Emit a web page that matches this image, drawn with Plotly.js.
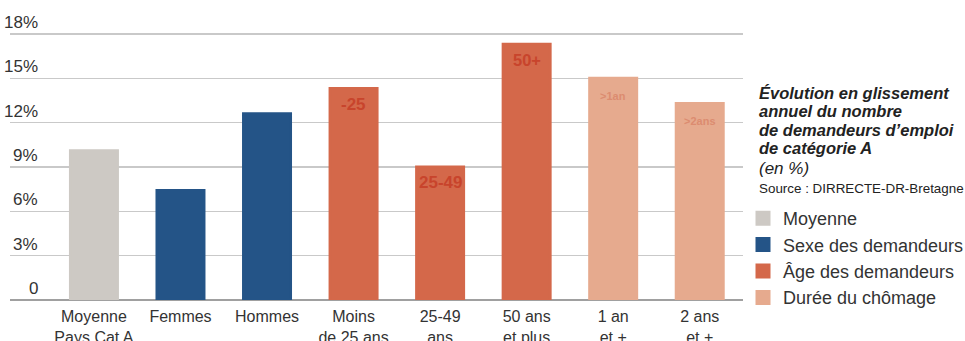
<!DOCTYPE html>
<html>
<head>
<meta charset="utf-8">
<script src="https://cdn.plot.ly/plotly-3.0.1.min.js"></script>
<style>html,body{margin:0;padding:0;background:#fff;}#chart{width:965px;height:341px;}</style>
</head>
<body>
<div id="chart"></div>
<script>
// ---- data ----
const categories = ["Moyenne<br>Pays Cat A", "Femmes", "Hommes", "Moins<br>de 25 ans", "25-49<br>ans", "50 ans<br>et plus", "1 an<br>et +", "2 ans<br>et +"];
const groupNames = ["Moyenne", "Sexe des demandeurs", "Âge des demandeurs", "Durée du chômage"];
const moyenneCats = ["Moyenne<br>Pays Cat A"];
const moyenneValues = [10.1];
const sexeCats = ["Femmes", "Hommes"];
const sexeValues = [7.4, 12.6];
const ageCats = ["Moins<br>de 25 ans", "25-49<br>ans", "50 ans<br>et plus"];
const ageValues = [14.3, 9.0, 17.3];
const ageLabels = ["-25", "25-49", "50+"];
const dureeCats = ["1 an<br>et +", "2 ans<br>et +"];
const dureeValues = [15.0, 13.3];
const dureeLabels = [">1an", ">2ans"];
const yTickValues = [0, 3, 6, 9, 12, 15, 18];
const yTickLabels = ["0", "3%", "6%", "9%", "12%", "15%", "18%"];
const titleLines = ["Évolution en glissement", "annuel du nombre", "de demandeurs d’emploi", "de catégorie A"];
const unitText = "(en %)";
const sourceText = "Source : DIRRECTE-DR-Bretagne";

// ---- style ----
const colors = ["#cdc9c4", "#245487", "#d4684a", "#e6aa8e"];
const FONT = "Liberation Sans, Arial, sans-serif";
const W = 965, H = 341;
const M = {l: 10, r: 222, t: 28, b: 41};
const plotH = H - M.t - M.b, plotW = W - M.l - M.r;
const px2x = p => (p - M.l) / plotW;
const py2y = p => (H - M.b - p) / plotH;

function barTrace(name, cats, vals, color) {
  return {
    type: "bar", name: name, x: cats, y: vals,
    marker: {color: color, line: {color: color, width: 3}},
    hoverinfo: "skip"
  };
}

const data = [
  barTrace(groupNames[0], moyenneCats, moyenneValues, colors[0]),
  barTrace(groupNames[1], sexeCats, sexeValues, colors[1]),
  barTrace(groupNames[2], ageCats, ageValues, colors[2]),
  barTrace(groupNames[3], dureeCats, dureeValues, colors[3])
];

const annotations = [];
// labels inside the bars, anchored to each bar's value
ageCats.forEach((c, i) => {
  annotations.push({
    xref: "x", yref: "y", x: c, y: ageValues[i], xanchor: "center", yanchor: "middle", yshift: -16,
    text: ageLabels[i], showarrow: false,
    font: {family: FONT, size: i === 2 ? 16.5 : 17, color: "#c8442c", weight: "bold"}
  });
});
dureeCats.forEach((c, i) => {
  annotations.push({
    xref: "x", yref: "y", x: c, y: dureeValues[i], xanchor: "center", yanchor: "middle", yshift: -18,
    text: dureeLabels[i], showarrow: false,
    font: {family: FONT, size: 11, color: "#dc8c70", weight: "bold"}
  });
});
yTickValues.forEach((v, i) => {
  annotations.push({
    xref: "paper", yref: "y", x: px2x(40), y: v, xanchor: "right", yanchor: "bottom",
    text: yTickLabels[i], showarrow: false, font: {family: FONT, size: 17, color: "#333"}
  });
});
const titleBottoms = [104, 122, 141, 159];
titleLines.forEach((s, i) => {
  annotations.push({
    xref: "paper", yref: "paper", x: px2x(757), y: py2y(titleBottoms[i]), xanchor: "left", yanchor: "bottom",
    text: s, showarrow: false, font: {family: FONT, size: 16.5, color: "#222", weight: "bold", style: "italic"}
  });
});
annotations.push({
  xref: "paper", yref: "paper", x: px2x(757), y: py2y(180), xanchor: "left", yanchor: "bottom",
  text: unitText, showarrow: false, font: {family: FONT, size: 17, color: "#222", style: "italic"}
});
annotations.push({
  xref: "paper", yref: "paper", x: px2x(757), y: py2y(198), xanchor: "left", yanchor: "bottom",
  text: sourceText, showarrow: false, font: {family: FONT, size: 13.4, color: "#222"}
});

const layout = {
  width: W, height: H,
  margin: M,
  paper_bgcolor: "#fff", plot_bgcolor: "#fff",
  barmode: "overlay", bargap: 0.457,
  showlegend: true,
  legend: {
    xref: "container", yref: "container",
    x: 743 / W, xanchor: "left", y: 1 - 200 / H, yanchor: "top",
    font: {family: FONT, size: 18, color: "#333"},
    bgcolor: "rgba(0,0,0,0)", borderwidth: 0, traceorder: "normal"
  },
  xaxis: {
    type: "category", categoryorder: "array", categoryarray: categories,
    range: [-0.97, 7.5], showgrid: false, zeroline: false, showline: false, ticks: "",
    tickfont: {family: FONT, size: 16, color: "#333"}, ticklabelstandoff: 5, fixedrange: true
  },
  yaxis: {
    range: [0, 18.4], tickvals: yTickValues, showticklabels: false, ticks: "",
    showgrid: true, gridcolor: "#c9c9c9", gridwidth: 1.5,
    zeroline: true, zerolinecolor: "#a0a0a0", zerolinewidth: 1.5, showline: false, fixedrange: true
  },
  annotations: annotations,
  font: {family: FONT}
};

Plotly.newPlot("chart", data, layout, {displayModeBar: false, staticPlot: true});
</script>
</body>
</html>
